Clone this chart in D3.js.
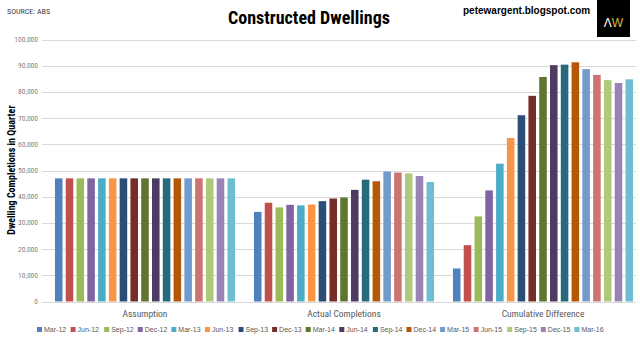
<!DOCTYPE html>
<html>
<head>
<meta charset="utf-8">
<script src="https://cdn.jsdelivr.net/npm/d3@7"></script>
<style>
  body { margin: 0; background: #fff; }
  svg { display: block; }
  .narrow { font-family: "Liberation Sans Narrow", "Arial Narrow", "Roboto Condensed", "Liberation Sans", sans-serif; }
</style>
</head>
<body>
<div id="chart"></div>
<script>
// Daten
var groups = ["Assumption", "Actual Completions", "Cumulative Difference"];
var quarters = ["Mar-12", "Jun-12", "Sep-12", "Dec-12", "Mar-13", "Jun-13", "Sep-13", "Dec-13",
                "Mar-14", "Jun-14", "Sep-14", "Dec-14", "Mar-15", "Jun-15", "Sep-15", "Dec-15", "Mar-16"];
var assumption = [47000, 47000, 47000, 47000, 47000, 47000, 47000, 47000, 47000,
                  47000, 47000, 47000, 47000, 47000, 47000, 47000, 47000];
var actual = [34200, 37700, 35900, 36900, 36700, 37000, 38300, 39300, 39700,
              42600, 46500, 45900, 49600, 49200, 48900, 47900, 45600];
var cumulative = [12600, 21500, 32500, 42400, 52600, 62400, 71100, 78500, 85700,
                  90200, 90400, 91300, 88700, 86500, 84500, 83400, 84800];
var yTicks = [0, 10000, 20000, 30000, 40000, 50000, 60000, 70000, 80000, 90000, 100000];

// Farben (Excel Palette)
var colors = ["#4f81bd", "#c0504d", "#9bbb59", "#8064a2", "#4bacc6", "#f79646", "#2c4d75", "#772c2a",
              "#5f7530", "#4d3b62", "#276a7c", "#b65708", "#729aca", "#cd7371", "#afc97a", "#9983b5", "#6fbdd1"];

var width = 640;
var height = 338;
var seriesByGroup = [assumption, actual, cumulative];

var svg = d3.select("#chart")
  .append("svg")
  .attr("width", width)
  .attr("height", height);

// Skalen
var y = d3.scaleLinear().domain([0, 100000]).range([301.5, 39.5]);
var x0 = d3.scaleBand().domain(groups).range([45.5, 642.5]).paddingInner(0.095).paddingOuter(0.0475);
var x1 = d3.scaleBand().domain(quarters).range([0, x0.bandwidth()]).paddingInner(0.3).paddingOuter(0);
var xLegend = d3.scaleBand().domain(quarters).range([37, 608]);

// Gitterlinien
svg.append("g")
  .selectAll("line")
  .data(yTicks)
  .enter().append("line")
  .attr("x1", 42)
  .attr("x2", 636)
  .attr("y1", function(d) { return Math.round(y(d)) + 0.5; })
  .attr("y2", function(d) { return Math.round(y(d)) + 0.5; })
  .attr("stroke", "#d9d9d9")
  .attr("stroke-width", 1);

// y Achse Beschriftung
svg.append("g")
  .selectAll("text")
  .data(yTicks)
  .enter().append("text")
  .attr("class", "narrow")
  .attr("x", 38)
  .attr("y", function(d) { return y(d) + 2.5; })
  .attr("text-anchor", "end")
  .attr("font-size", "7.5px")
  .attr("fill", "#7f7f7f")
  .text(function(d) { return d3.format(",")(d); });

// Balken
var gGroups = svg.append("g")
  .selectAll("g")
  .data(groups)
  .enter().append("g")
  .attr("transform", function(d) { return "translate(" + x0(d) + ",0)"; });

gGroups.selectAll("rect")
  .data(function(d, i) {
    return seriesByGroup[i].map(function(v, j) { return {q: quarters[j], v: v, c: colors[j]}; });
  })
  .enter().append("rect")
  .attr("x", function(d) { return x1(d.q); })
  .attr("y", function(d) { return y(d.v); })
  .attr("width", x1.bandwidth())
  .attr("height", function(d) { return y(0) - y(d.v); })
  .attr("fill", function(d) { return d.c; });

// Kategorien
svg.append("g")
  .selectAll("text")
  .data(groups)
  .enter().append("text")
  .attr("class", "narrow")
  .attr("x", function(d) { return x0(d) + x0.bandwidth() / 2; })
  .attr("y", 317)
  .attr("text-anchor", "middle")
  .attr("font-size", "9.5px")
  .attr("fill", "#595959")
  .text(function(d) { return d; });

// Achsentitel
svg.append("text")
  .attr("class", "narrow")
  .attr("transform", "translate(15,170) rotate(-90)")
  .attr("text-anchor", "middle")
  .attr("font-size", "10px")
  .attr("font-weight", "bold")
  .attr("fill", "#000")
  .text("Dwelling Completions in Quarter");

// Titel
svg.append("text")
  .attr("class", "narrow")
  .attr("x", 309)
  .attr("y", 24)
  .attr("text-anchor", "middle")
  .attr("font-size", "18px")
  .attr("font-weight", "bold")
  .attr("fill", "#000")
  .text("Constructed Dwellings");

svg.append("text")
  .attr("class", "narrow")
  .attr("x", 7)
  .attr("y", 14)
  .attr("font-size", "8px")
  .attr("fill", "#404040")
  .text("SOURCE: ABS");

svg.append("text")
  .attr("x", 463)
  .attr("y", 14)
  .attr("font-family", "Liberation Sans, Arial, sans-serif")
  .attr("font-size", "10px")
  .attr("font-weight", "bold")
  .attr("fill", "#000")
  .text("petewargent.blogspot.com");

// Logo
svg.append("rect")
  .attr("x", 597)
  .attr("y", 0)
  .attr("width", 33)
  .attr("height", 37)
  .attr("fill", "#000");
var logo = svg.append("text")
  .attr("x", 613.5)
  .attr("y", 27)
  .attr("text-anchor", "middle")
  .attr("font-family", "Liberation Sans, Arial, sans-serif")
  .attr("font-size", "12px");
logo.append("tspan").attr("fill", "#fff").text("\u039B");
logo.append("tspan").attr("fill", "#d4b94a").text("W");

// Legende
var legend = svg.append("g")
  .selectAll("g")
  .data(quarters)
  .enter().append("g")
  .attr("transform", function(d) { return "translate(" + xLegend(d) + ",332)"; });
legend.append("rect")
  .attr("x", 0)
  .attr("y", -5)
  .attr("width", 5)
  .attr("height", 5)
  .attr("fill", function(d, i) { return colors[i]; });
legend.append("text")
  .attr("x", 7)
  .attr("y", 0)
  .attr("font-family", "Liberation Sans, Arial, sans-serif")
  .attr("font-size", "7px")
  .attr("fill", "#595959")
  .text(function(d) { return d; });
</script>
</body>
</html>
